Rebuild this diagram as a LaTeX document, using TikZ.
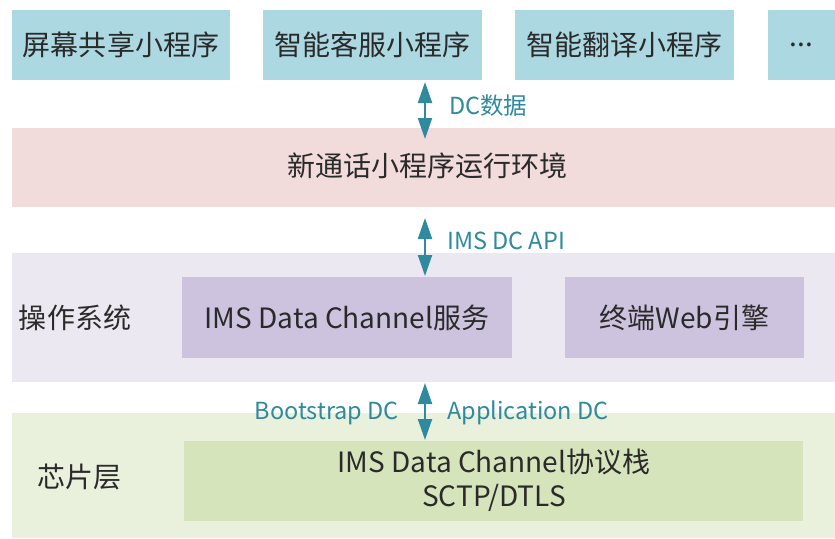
\documentclass[tikz,border=0pt]{standalone}
\usepackage{fontspec}
\newfontfamily\cjk{Noto Sans CJK SC}
\usetikzlibrary{arrows.meta}
\definecolor{appblue}{HTML}{ACD8E2}
\definecolor{runpink}{HTML}{F2DCDB}
\definecolor{osband}{HTML}{ECE8F1}
\definecolor{ospurple}{HTML}{CDC3DE}
\definecolor{chipband}{HTML}{E9F0DC}
\definecolor{chipgreen}{HTML}{D6E4BC}
\definecolor{txt}{HTML}{2A2A2A}
\definecolor{teal}{HTML}{2E8A9C}
\tikzset{
  box/.style={inner sep=0pt, outer sep=0pt, text=txt, font=\cjk\fontsize{28}{32}\selectfont},
  app/.style={box, fill=appblue, minimum height=70pt},
  band/.style={box, fill=#1, minimum width=823pt},
  lbl/.style={text=txt, font=\cjk\fontsize{28}{32}\selectfont, inner sep=0pt},
  dclbl/.style={text=teal, font=\cjk\fontsize{23.5}{27}\selectfont, inner sep=0pt},
  dcarrow/.style={draw=teal, line width=2pt, {Triangle[width=14pt,length=21pt]}-{Triangle[width=14pt,length=21pt]}}
}
\begin{document}
\begin{tikzpicture}[x=1pt,y=-1pt]
\useasboundingbox (0,0) rectangle (835,538);
% bands
\node[band=runpink, minimum height=79pt] (run) at (423.5,167.5) {};
\node[lbl] (runtxt) at (427,166) {新通话小程序运行环境};
\node[band=osband, minimum height=129pt] (os) at (423.5,317.5) {};
\node[band=chipband, minimum height=125pt] (chip) at (423.5,475.5) {};
% top apps
\node[app, minimum width=218pt] (app1) at (121,45) {屏幕共享小程序};
\node[app, minimum width=219pt] (app2) at (372.5,45) {智能客服小程序};
\node[app, minimum width=219pt] (app3) at (624.5,45) {智能翻译小程序};
\node[app, minimum width=67pt] (app4) at (801.5,45) {...};
% OS layer
\node[lbl] (oslbl) at (75,318) {操作系统};
\node[box, fill=ospurple, minimum width=330pt, minimum height=81pt] (svc) at (347,317.5) {IMS Data Channel服务};
\node[box, fill=ospurple, minimum width=239pt, minimum height=81pt] (web) at (684.5,317.5) {终端Web引擎};
% chip layer
\node[lbl] (chiplbl) at (79,477) {芯片层};
\node[box, fill=chipgreen, minimum width=619pt, minimum height=80pt] (stack) at (493.5,481) {};
\node[lbl, align=center, font=\cjk\fontsize{28}{34}\selectfont] (stacktxt) at (494,480) {IMS Data Channel协议栈\\SCTP/DTLS};
% arrows
\coordinate (a1s) at (425,82);
\coordinate (a1e) at (425,139);
\coordinate (a2s) at (425,218);
\coordinate (a2e) at (425,276);
\coordinate (a3s) at (425,383);
\coordinate (a3e) at (425,440);
\draw[dcarrow] (a1s) -- (a1e);
\draw[dcarrow] (a2s) -- (a2e);
\draw[dcarrow] (a3s) -- (a3e);
\node[dclbl, anchor=west] (l1) at (449,106) {DC数据};
\node[dclbl, anchor=west] (l2) at (447,241) {IMS DC API};
\node[dclbl, anchor=east] (l3) at (399,413) {Bootstrap DC};
\node[dclbl, anchor=west] (l4) at (447,413) {Application DC};
\end{tikzpicture}
\end{document}
